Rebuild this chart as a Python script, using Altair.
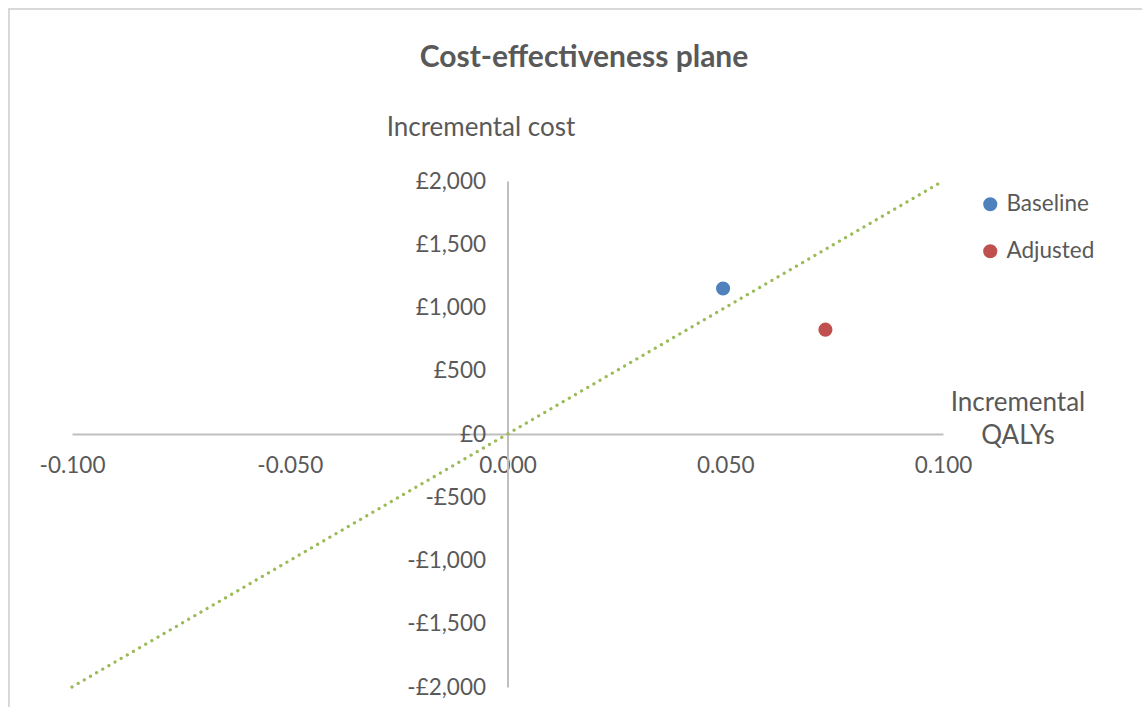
import altair as alt
import pandas as pd

# Incremental results per scenario
series = ["Baseline", "Adjusted"]
inc_qalys = [0.0495, 0.073]
inc_cost = [1150, 825]

# Willingness-to-pay threshold line (£20,000 per QALY)
wtp_qalys = [-0.100, 0.100]
wtp_cost = [-2000, 2000]

# Axis tick values
x_ticks = [-0.100, -0.050, 0.000, 0.050, 0.100]
y_ticks = [-2000, -1500, -1000, -500, 0, 500, 1000, 1500, 2000]

points = pd.DataFrame({"series": series, "qalys": inc_qalys, "cost": inc_cost})
wtp = pd.DataFrame({"qalys": wtp_qalys, "cost": wtp_cost})

FONT = "Lato"
GREY = "#595959"
AXIS_GREY = "#bfbfbf"
W, H = 871, 506
LEFT, TOP = 72, 181
TICK_SIZE = 22.5

xscale = alt.Scale(domain=[-0.1, 0.1], nice=False, zero=False)
yscale = alt.Scale(domain=[-2000, 2000], nice=False, zero=False)

x_axis = alt.Axis(
    values=x_ticks,
    labelExpr="(datum.value < 0 ? '-' : '') + format(abs(datum.value), '.3f')",
    offset=-H / 2, grid=False, ticks=False,
    domainColor=AXIS_GREY, domainWidth=2, labelFont=FONT, labelFontSize=TICK_SIZE,
    labelColor=GREY, labelPadding=20, labelFlush=False, labelOverlap=False,
    title=None,
)
y_axis = alt.Axis(
    values=y_ticks,
    labelExpr="(datum.value < 0 ? '-' : '') + '£' + format(abs(datum.value), ',')",
    offset=-W / 2, grid=False, ticks=False, domainColor=AXIS_GREY, domainWidth=2,
    labelFont=FONT, labelFontSize=TICK_SIZE, labelColor=GREY, labelPadding=22,
    labelOverlap=False, title=None,
)

x_enc = alt.X("qalys:Q", scale=xscale, axis=x_axis)
y_enc = alt.Y("cost:Q", scale=yscale, axis=y_axis)

threshold = alt.Chart(wtp).mark_line(
    color="#9BBB59", strokeWidth=3.2, strokeDash=[0.1, 7], strokeCap="round"
).encode(x=x_enc, y=y_enc)

dots = alt.Chart(points).mark_circle(size=200, opacity=1).encode(
    x=x_enc,
    y=y_enc,
    color=alt.Color(
        "series:N",
        scale=alt.Scale(domain=series, range=["#4F81BD", "#C0504D"]),
        legend=alt.Legend(
            orient="none", legendX=907, legendY=12, title=None,
            labelFont=FONT, labelFontSize=TICK_SIZE, labelColor=GREY,
            symbolType="circle", symbolSize=200, symbolStrokeWidth=0,
            labelOffset=5, rowPadding=24,
        ),
    ),
)

def label(text, x, y, size=26, weight="normal", line_height=33):
    return alt.Chart(pd.DataFrame({"t": [text]})).mark_text(
        font=FONT, fontSize=size, fontWeight=weight, color=GREY,
        align="center", baseline="middle", lineBreak="\n", lineHeight=line_height,
    ).encode(text="t:N", x=alt.value(x), y=alt.value(y))

title = label("Cost-effectiveness plane", 584 - LEFT, 58 - TOP, size=30, weight="bold")
y_title = label("Incremental cost", 481 - LEFT, 128 - TOP)
x_title = label("Incremental\nQALYs", 1018 - LEFT, 403 - TOP)

frame = alt.Chart(pd.DataFrame({"f": [0]})).mark_rect(
    fillOpacity=0, stroke="#d9d9d9", strokeWidth=2
).encode(
    x=alt.value(9 - LEFT), y=alt.value(9 - TOP),
    x2=alt.value(1200 - LEFT), y2=alt.value(800 - TOP),
)

chart = alt.layer(frame, threshold, dots, title, y_title, x_title).properties(
    width=W, height=H,
    autosize=alt.AutoSizeParams(type="none"),
    padding={"left": LEFT, "top": TOP, "right": 1142 - LEFT - W, "bottom": 707 - TOP - H},
    background="white",
).configure_view(stroke=None)

chart.save("out.html", embed_options={"renderer": "svg", "actions": False})
